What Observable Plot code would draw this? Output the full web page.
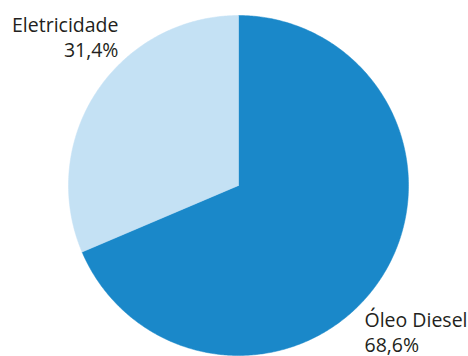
<!DOCTYPE html>
<html>
<head>
<meta charset="utf-8">
<script src="https://cdn.jsdelivr.net/npm/d3@7"></script>
<script src="https://cdn.jsdelivr.net/npm/@observablehq/plot@0.6"></script>
<style>
  html, body { margin: 0; padding: 0; background: #fff; }
  #chart svg { display: block; }
</style>
</head>
<body>
<div id="chart"></div>
<script>
// Data
const categories = ["Óleo Diesel", "Eletricidade"];
const shares = [68.6, 31.4];
const shareLabels = ["68,6%", "31,4%"];
const colors = ["#1a88c9", "#c4e1f4"];

// Build slice polygons from the values (clockwise from 12 o'clock)
const pie = d3.pie().sort(null).value(d => d.value);
const arcs = pie(categories.map((c, i) => ({name: c, value: shares[i]})));
const polys = [];
arcs.forEach(a => {
  const name = a.data.name;
  polys.push({name, x: 0, y: 0});
  const n = Math.max(2, Math.ceil((a.endAngle - a.startAngle) / 0.01));
  for (let k = 0; k <= n; k++) {
    const t = a.startAngle + (a.endAngle - a.startAngle) * k / n;
    polys.push({name, x: Math.sin(t), y: Math.cos(t)});
  }
  polys.push({name, x: 0, y: 0});
});

// Label layout (in the chart's unit-circle coordinates)
const labelLayout = [
  {name: "Óleo Diesel", x: (364 - 238) / 170, y: (185 - 325) / 170, anchor: "start"},
  {name: "Eletricidade", x: (118 - 238) / 170, y: (185 - 30) / 170, anchor: "end"}
];
const labels = [];
labelLayout.forEach(l => {
  const i = categories.indexOf(l.name);
  labels.push({text: categories[i], x: l.x, y: l.y, anchor: l.anchor, line: 0});
  labels.push({text: shareLabels[i], x: l.x, y: l.y, anchor: l.anchor, line: 1});
});

const font = "'Open Sans', sans-serif";
const textOpts = (anchor, line) => ({
  x: "x", y: "y", text: "text",
  textAnchor: anchor,
  lineAnchor: "bottom",
  dy: line * 25 + 1,
  fontSize: 19.5,
  fill: "#231f20",
  fontFamily: font
});

const chart = Plot.plot({
  width: 468,
  height: 356,
  margin: 0,
  x: {domain: [-1, 1], range: [68, 408], axis: null},
  y: {domain: [-1, 1], range: [355, 15], axis: null},
  marks: [
    ...categories.map((c, i) => Plot.line(polys.filter(p => p.name === c), {
      x: "x", y: "y", fill: colors[i], stroke: colors[i], strokeWidth: 0.5, curve: "linear"
    })),
    ...[0, 1].map(line => Plot.text(labels.filter(l => l.anchor === "end" && l.line === line), textOpts("end", line))),
    ...[0, 1].map(line => Plot.text(labels.filter(l => l.anchor === "start" && l.line === line), textOpts("start", line)))
  ]
});
chart.style.fontFamily = font;
document.getElementById("chart").appendChild(chart);
</script>
</body>
</html>
